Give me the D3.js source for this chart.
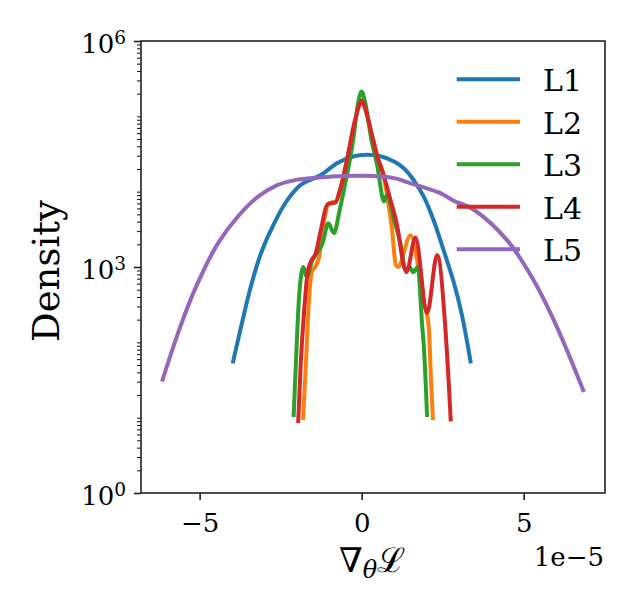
<!DOCTYPE html>
<html>
<head>
<meta charset="utf-8">
<script src="https://cdn.jsdelivr.net/npm/d3@7"></script>
<style>
  html, body { margin: 0; padding: 0; background: #fff; }
  svg { display: block; }
  text { font-family: "DejaVu Serif", serif; fill: #000; }
</style>
</head>
<body>
<svg id="chart" width="635" height="612"></svg>
<script>
// ---- data (x in units of 1e-5, y = density) ----
const seriesNames = ["L1", "L2", "L3", "L4", "L5"];
const seriesColors = ["#1f77b4", "#ff7f0e", "#2ca02c", "#d62728", "#9467bd"];

const L1x = [-3.98, -3.72, -3.42, -3.11, -2.70, -2.29, -1.88, -1.26, -0.75, -0.24, 0.17, 0.58, 1.00, 1.30, 1.61, 1.92, 2.22, 2.53, 2.84, 3.10, 3.37];
const L1y = [52.5, 162, 550, 1514, 3802, 7762, 12300, 16600, 23990, 29510, 30900, 29510, 25120, 20420, 14130, 8511, 4169, 1660, 631, 224, 52.5];

const L2x = [-1.81, -1.72, -1.62, -1.52, -1.47, -1.31, -1.20, -1.00, -0.80, -0.65, -0.44, -0.24, -0.10, 0.00, 0.10, 0.28, 0.48, 0.69, 0.80, 0.94, 1.05, 1.12, 1.51, 1.92, 2.07, 2.14, 2.20];
const L2y = [9.3, 52.5, 407, 912, 955, 1380, 3162, 7079, 7413, 11220, 28180, 75860, 128800, 158500, 128800, 66070, 29510, 15850, 7943, 3090, 1072, 1000, 2630, 331, 162, 31.6, 9.3];

const L3x = [-2.10, -2.03, -1.93, -1.80, -1.70, -1.52, -1.36, -1.21, -1.03, -0.85, -0.70, -0.55, -0.26, -0.10, 0.00, 0.10, 0.30, 0.48, 0.69, 0.78, 1.00, 1.20, 1.35, 1.48, 1.59, 1.73, 1.87, 1.92, 2.02];
const L3y = [10.2, 52.5, 407, 1000, 741, 1230, 1585, 2042, 3802, 2818, 5129, 10470, 48980, 158500, 213800, 158500, 48980, 22390, 7413, 9120, 4169, 2042, 912, 1000, 851, 1000, 162, 87.1, 10.2];

const L4x = [-1.96, -1.88, -1.78, -1.67, -1.57, -1.42, -1.26, -1.06, -0.80, -0.65, -0.44, -0.24, -0.10, 0.00, 0.10, 0.28, 0.48, 0.69, 0.89, 1.10, 1.30, 1.38, 1.66, 2.02, 2.33, 2.58, 2.71, 2.75];
const L4y = [8.5, 52.5, 245, 832, 1175, 1514, 3090, 6761, 7244, 11220, 28180, 75860, 131800, 162200, 131800, 66070, 29510, 15850, 7762, 3467, 1047, 851, 2455, 245, 1445, 162, 19.1, 8.9];

const L5x = [-6.16, -5.67, -5.16, -4.44, -3.82, -3.21, -2.59, -1.98, -0.95, 0.07, 1.00, 1.51, 1.82, 2.43, 2.84, 3.46, 4.48, 5.30, 6.02, 6.86];
const L5y = [30.2, 131.8, 489.8, 2042, 4677, 8511, 12300, 14450, 15850, 16220, 15140, 12880, 11750, 9550, 7586, 5754, 2291, 676, 162, 21.9];

const xTicks = [-5, 0, 5];
const xOffsetLabel = "1e\u22125";
const yTickExps = [0, 3, 6];
const xDomain = [-6.81, 7.51];
const yDomain = [1, 1e6];

// ---- layout ----
const svg = d3.select("#chart");
const pL = 141, pR = 605, pT = 41, pB = 493;

const x = d3.scaleLinear().domain(xDomain).range([pL, pR]);
const y = d3.scaleLog().domain(yDomain).range([pB, pT]);

svg.append("rect").attr("width", 635).attr("height", 612).attr("fill", "#fff");

const allX = [L1x, L2x, L3x, L4x, L5x];
const allY = [L1y, L2y, L3y, L4y, L5y];
const curves = [d3.curveCatmullRom.alpha(0.5), d3.curveMonotoneX, d3.curveMonotoneX, d3.curveMonotoneX, d3.curveCatmullRom.alpha(0.5)];

const g = svg.append("g");
allX.forEach((xs, i) => {
  const pts = xs.map((v, j) => [v, allY[i][j]]);
  const line = d3.line().x(d => x(d[0])).y(d => y(d[1])).curve(curves[i]);
  g.append("path")
    .attr("d", line(pts))
    .attr("fill", "none")
    .attr("stroke", seriesColors[i])
    .attr("stroke-width", 4)
    .attr("stroke-linejoin", "round");
});

// ---- axes ----
const axisColor = "#222";
const xAxis = d3.axisBottom(x).tickValues(xTicks).tickSize(7).tickPadding(6)
  .tickFormat(d => d < 0 ? "\u2212" + Math.abs(d) : String(d));
const gx = svg.append("g").attr("transform", `translate(0,${pB})`).call(xAxis);
gx.select(".domain").remove();
gx.selectAll(".tick line").attr("stroke", axisColor).attr("stroke-width", 1.6);
gx.selectAll(".tick text").attr("font-family", "DejaVu Serif").attr("font-size", 26)
  .attr("fill", "#000").attr("dy", null).attr("y", 38.7);

const yMajor = yTickExps.map(e => Math.pow(10, e));
const yAxis = d3.axisLeft(y).tickValues(yMajor).tickSize(7).tickFormat("");
const gy = svg.append("g").attr("transform", `translate(${pL},0)`).call(yAxis);
gy.select(".domain").remove();
gy.selectAll(".tick line").attr("stroke", axisColor).attr("stroke-width", 1.6);

const yMinor = [];
for (let e = 0; e < 6; e++) {
  for (let m = 1; m <= 9; m++) {
    const v = m * Math.pow(10, e);
    if (!yMajor.includes(v)) yMinor.push(v);
  }
}
const yAxisMinor = d3.axisLeft(y).tickValues(yMinor).tickSize(4).tickFormat("");
const gym = svg.append("g").attr("transform", `translate(${pL},0)`).call(yAxisMinor);
gym.select(".domain").remove();
gym.selectAll(".tick line").attr("stroke", axisColor).attr("stroke-width", 1.1);

yTickExps.forEach(e => {
  const t = svg.append("text")
    .attr("x", 126)
    .attr("y", y(Math.pow(10, e)) + 12)
    .attr("text-anchor", "end")
    .attr("font-size", 26);
  t.append("tspan").text("10");
  t.append("tspan").attr("font-size", 18.5).attr("dy", -8.6).text(String(e));
});

svg.append("rect")
  .attr("x", pL).attr("y", pT)
  .attr("width", pR - pL).attr("height", pB - pT)
  .attr("fill", "none").attr("stroke", axisColor).attr("stroke-width", 1.6);

svg.append("text").attr("x", 604).attr("y", 566).attr("text-anchor", "end")
  .attr("font-size", 26).text(xOffsetLabel);

const xl = svg.append("text").attr("x", 372).attr("y", 571.7).attr("text-anchor", "middle")
  .attr("font-size", 34);
xl.append("tspan").text("\u2207");
xl.append("tspan").attr("font-size", 24).attr("font-style", "italic").attr("dy", 6).text("\u03b8");
xl.append("tspan").attr("dy", -6).text("\u2112");

svg.append("text")
  .attr("transform", "translate(59,271) rotate(-90)")
  .attr("text-anchor", "middle")
  .attr("font-size", 37)
  .text("Density");

const legY0 = 79.3, legStep = 42.5;
seriesNames.forEach((name, i) => {
  const ly = legY0 + i * legStep;
  svg.append("line").attr("x1", 456.7).attr("x2", 520).attr("y1", ly).attr("y2", ly)
    .attr("stroke", seriesColors[i]).attr("stroke-width", 4);
  svg.append("text").attr("x", 543).attr("y", ly + 11.7).attr("font-size", 30).text(name);
});
</script>
</body>
</html>
